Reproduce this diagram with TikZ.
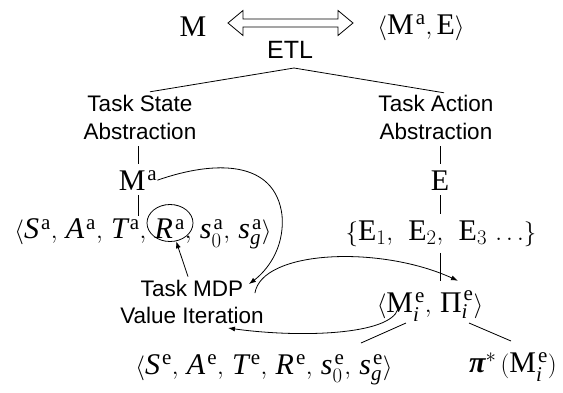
\documentclass[tikz,border=0pt]{standalone}
\usepackage{amsmath}
\usepackage{fontspec}
\setmainfont{Liberation Serif}
\newfontfamily\labfont{Liberation Sans}
\usetikzlibrary{arrows.meta,shapes.geometric}
\newcommand{\ita}[1]{\mathit{#1}}
\newcommand{\rma}[1]{\mathrm{#1}}
\newcommand{\up}[1]{^{\kern2pt\mathrm{#1}}}
\newcommand{\cm}{,\,}
\begin{document}
\begin{tikzpicture}[x=1pt,y=-1pt,
  mth/.style={inner sep=0pt, anchor=base, font=\fontsize{30}{36}\selectfont},
  lab/.style={inner sep=0pt, align=center, font=\labfont\fontsize{22.5}{27.5}\selectfont},
  con/.style={line width=0.8pt},
  arr/.style={line width=0.8pt, -{Latex[length=7pt,width=5pt]}}]
\useasboundingbox (0,0) rectangle (563,392);
% top row
\node[mth] (M) at (193,36) {$\rma{M}$};
\node[mth] (MaE) at (421,34) {$\langle\rma{M}\up{a},\rma{E}\rangle$};
\draw[line width=0.8pt] (228,23) -- (243,10.5) -- (243,19) -- (338,19) -- (338,10.5) -- (353,23)
  -- (338,35.5) -- (338,27) -- (243,27) -- (243,35.5) -- cycle;
\node[lab, anchor=base, font=\labfont\fontsize{25}{30}\selectfont] (ETL) at (290,58) {ETL};
\coordinate (apex) at (294,68);
% abstraction labels
\node[lab] (TSA) at (140,117.5) {Task State\\Abstraction};
\node[lab] (TAA) at (436,117.5) {Task Action\\Abstraction};
\draw[con] (apex) -- ([shift={(10,-3.5)}]TSA.north);
\draw[con] (apex) -- ([shift={(8,-2.5)}]TAA.north);
% left column
\node[mth] (Ma) at (138,190) {$\rma{M}\up{a}$};
\node[mth] (Ta) at (143,238.5) {$\langle \ita{S}\up{a}\cm\ita{A}\up{a}\cm\ita{T}\up{a}\cm\ita{R}\up{a}\cm\ita{s}_0\up{a}\cm\ita{s}_{\ita{g}}\up{a}\rangle$};
\node[draw, ellipse, line width=0.8pt, inner sep=0pt, minimum width=46pt, minimum height=37pt] (Rc) at (170,223) {};
\draw[con, shorten <=6.5pt, shorten >=6pt] (Ma |- TSA.south) -- (Ma.north);
\draw[con, shorten <=5pt, shorten >=2pt] (Ma.south) -- (Ma |- Ta.north);
% right column
\node[mth] (E) at (440,190) {$\rma{E}$};
\node[mth] (Es) at (441,240) {$\{\rma{E}_1,\;\,\rma{E}_2,\;\,\rma{E}_3\,\ldots\}$};
\draw[con, shorten <=6.5pt, shorten >=6pt] (E |- TAA.south) -- (E.north);
\draw[con, shorten <=5pt, shorten >=6pt] (E.south) -- (E |- Es.north);
\node[mth] (MeP) at (430,312) {$\langle\rma{M}_{\ita{i}}\up{e}\cm\text{Π}_{\ita{i}}\up{e}\rangle$};
\draw[con, shorten <=6.5pt, shorten >=9.5pt] (E |- Es.south) -- (E |- MeP.north);
% middle label
\node[lab] (VI) at (192,301.8) {Task MDP\\Value Iteration};
% bottom row
\node[mth] (Te) at (264,374) {$\langle \ita{S}\up{e}\cm\ita{A}\up{e}\cm\ita{T}\up{e}\cm\ita{R}\up{e}\cm\ita{s}_0\up{e}\cm\ita{s}_{\ita{g}}\up{e}\rangle$};
\node[mth] (Pi) at (513,372) {$\text{\bfseries\itshape π}^{*}\,(\rma{M}_{\ita{i}}\up{e})$};
\draw[con] ([shift={(-24,11)}]MeP.base) -- ([shift={(97,-31)}]Te.base);
\draw[con] ([shift={(39,11)}]MeP.base) -- ([shift={(-2,-31)}]Pi.base);
% arrows
\draw[arr] ([shift={(-4,-3)}]VI.north) -- (Rc);
\draw[arr] (Ma.east) .. controls (215,160) and (275,160) .. (282,215)
  .. controls (285,250) and (265,272) .. ([shift={(-15,4.5)}]VI.north east);
\draw[arr] ([shift={(-9,13.5)}]VI.north east) .. controls (262,250) and (380,245) .. ([shift={(28,-9.5)}]MeP.north);
\draw[arr] ([shift={(-32,-3)}]MeP.base) .. controls (390,335) and (300,338) .. ([shift={(36,4)}]VI.south);
\end{tikzpicture}
\end{document}
